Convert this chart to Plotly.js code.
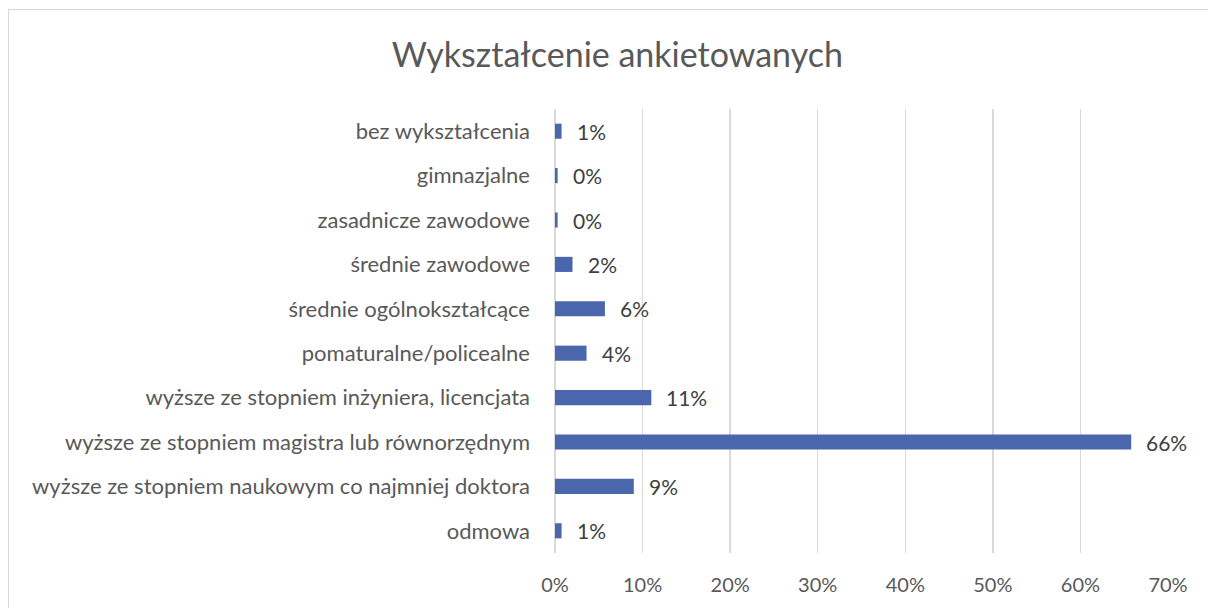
<!DOCTYPE html>
<html>
<head>
<meta charset="utf-8">
<script src="https://cdn.plot.ly/plotly-3.0.1.min.js"></script>
<style>
html,body{margin:0;padding:0;background:#fff;}
#frame{position:absolute;left:8px;top:9px;width:1220px;height:620px;border:1px solid #d9d9d9;pointer-events:none;z-index:5;}
#chart{width:1208px;height:608px;}
</style>
</head>
<body>
<div id="frame"></div>
<div id="chart"></div>
<script>
var categories = [
  "bez wykształcenia",
  "gimnazjalne",
  "zasadnicze zawodowe",
  "średnie zawodowe",
  "średnie ogólnokształcące",
  "pomaturalne/policealne",
  "wyższe ze stopniem inżyniera, licencjata",
  "wyższe ze stopniem magistra lub równorzędnym",
  "wyższe ze stopniem naukowym co najmniej doktora",
  "odmowa"
];
var values = [0.0075, 0.003, 0.003, 0.020, 0.057, 0.036, 0.110, 0.658, 0.090, 0.0075];
var tickValues = [0, 0.1, 0.2, 0.3, 0.4, 0.5, 0.6, 0.7];
var tickLabels = ["0%", "10%", "20%", "30%", "40%", "50%", "60%", "70%"];

var fontFam = "Lato, 'Open Sans', sans-serif";

var trace = {
  type: "bar",
  orientation: "h",
  x: values,
  y: categories,
  marker: {color: "#4a66ac"},
  hoverinfo: "none"
};

var annotations = values.map(function(v, i){
  return {
    x: v, y: categories[i], xref: "x", yref: "y",
    text: Math.round(v*100) + "%",
    showarrow: false, xanchor: "left", xshift: 13,
    font: {family: fontFam, size: 21, color: "#404040"}
  };
});

var layout = {
  width: 1208, height: 608,
  paper_bgcolor: "#fff", plot_bgcolor: "#fff",
  margin: {l: 555, r: 40, t: 109, b: 55, pad: 0},
  bargap: 0.66,
  showlegend: false,
  title: {
    text: "Wykształcenie ankietowanych",
    x: 0.511, xanchor: "center", y: 0.91, yanchor: "middle",
    font: {family: fontFam, size: 34, color: "#595959"}
  },
  xaxis: {
    range: [0, 0.7],
    tickvals: tickValues, ticktext: tickLabels,
    showgrid: true, gridcolor: "#d9d9d9", gridwidth: 1.5,
    zeroline: true, zerolinecolor: "#d9d9d9", zerolinewidth: 1.5,
    showline: false, ticks: "",
    ticklabelstandoff: 18,
    tickfont: {family: fontFam, size: 20, color: "#595959"}
  },
  yaxis: {
    autorange: "reversed",
    showgrid: false, zeroline: false, showline: false,
    ticks: "", ticklabelstandoff: 24,
    tickfont: {family: fontFam, size: 22, color: "#595959"}
  },
  annotations: annotations
};

Plotly.newPlot("chart", [trace], layout, {displayModeBar: false, staticPlot: true});
</script>
</body>
</html>
